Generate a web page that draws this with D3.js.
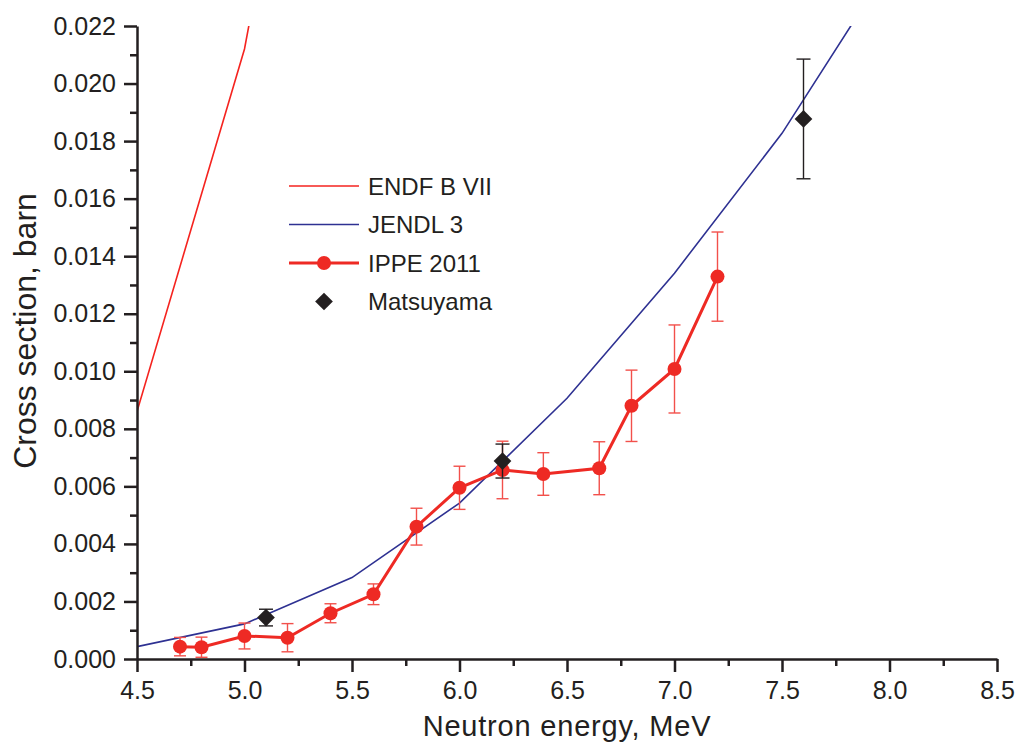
<!DOCTYPE html>
<html>
<head>
<meta charset="utf-8">
<script src="https://cdn.jsdelivr.net/npm/d3@7"></script>
<style>
  body { margin: 0; background: #fff; }
  text { font-family: Arial, "Liberation Sans", sans-serif; fill: #231f20; }
</style>
</head>
<body>
<div id="chart"></div>
<script>
// ENDF B VII evaluation
const endfE = [4.5, 5.0, 5.2];
const endfXS = [0.0086, 0.0212, 0.0292];

// JENDL 3 evaluation
const jendlE = [4.5, 5.0, 5.5, 6.0, 6.5, 7.0, 7.5, 8.0];
const jendlXS = [0.00043, 0.00122, 0.00283, 0.00542, 0.00906, 0.01341, 0.01827, 0.0241];

// IPPE 2011 measurement
const ippeE = [4.7, 4.8, 5.0, 5.2, 5.4, 5.6, 5.8, 6.0, 6.2, 6.39, 6.65, 6.8, 7.0, 7.2];
const ippeXS = [0.00043, 0.00041, 0.0008, 0.00074, 0.00159, 0.00225, 0.0046, 0.00595, 0.00657, 0.00643, 0.00663, 0.0088, 0.01008, 0.01329];
const ippeErr = [0.00032, 0.00035, 0.00045, 0.00049, 0.00033, 0.00036, 0.00064, 0.00075, 0.001, 0.00074, 0.00092, 0.00124, 0.00153, 0.00155];

// Matsuyama
const matsE = [5.1, 6.2, 7.6];
const matsXS = [0.00144, 0.00688, 0.01877];
const matsErr = [0.00029, 0.00059, 0.00208];

const xTicks = [4.5, 5.0, 5.5, 6.0, 6.5, 7.0, 7.5, 8.0, 8.5];
const yTicks = [0, 0.002, 0.004, 0.006, 0.008, 0.010, 0.012, 0.014, 0.016, 0.018, 0.020, 0.022];

const fullWidth = 1016;
const fullHeight = 742;
const margin = { top: 26, right: 19, bottom: 83, left: 137 };
const width = fullWidth - margin.left - margin.right;
const height = fullHeight - margin.top - margin.bottom;

const ink = "#231f20";
const red = "#ee2a24";
const blue = "#2e3192";

const x = d3.scaleLinear().domain([4.5, 8.5]).range([0, width]);
const y = d3.scaleLinear().domain([0, 0.022]).range([height, 0]);

const svg = d3
  .select("#chart")
  .append("svg")
  .attr("width", fullWidth)
  .attr("height", fullHeight)
  .append("g")
  .attr("transform", `translate(${margin.left}, ${margin.top})`);

svg
  .append("clipPath")
  .attr("id", "clip")
  .append("rect")
  .attr("x", 0)
  .attr("y", 0)
  .attr("width", width)
  .attr("height", height);

const line = d3.line().x(d => x(d[0])).y(d => y(d[1]));

const plot = svg.append("g").attr("clip-path", "url(#clip)");

plot
  .append("path")
  .datum(d3.zip(endfE, endfXS))
  .attr("d", line)
  .attr("fill", "none")
  .attr("stroke", "#f5231f")
  .attr("stroke-width", 1.6);

plot
  .append("path")
  .datum(d3.zip(jendlE, jendlXS))
  .attr("d", line)
  .attr("fill", "none")
  .attr("stroke", blue)
  .attr("stroke-width", 1.6);

// error bars
const errBar = (g, data, color, cap, w) => {
  const eb = g.selectAll(null).data(data).enter().append("g");
  eb.append("line")
    .attr("x1", d => x(d[0])).attr("x2", d => x(d[0]))
    .attr("y1", d => y(d[1] - d[2])).attr("y2", d => y(d[1] + d[2]))
    .attr("stroke", color).attr("stroke-width", w);
  [-1, 1].forEach(s => {
    eb.append("line")
      .attr("x1", d => x(d[0]) - cap).attr("x2", d => x(d[0]) + cap)
      .attr("y1", d => y(d[1] + s * d[2])).attr("y2", d => y(d[1] + s * d[2]))
      .attr("stroke", color).attr("stroke-width", w);
  });
};

const ippe = d3.zip(ippeE, ippeXS, ippeErr);
const mats = d3.zip(matsE, matsXS, matsErr);

errBar(plot, ippe, "#f2504b", 6, 1.4);

plot
  .append("path")
  .datum(ippe)
  .attr("d", line)
  .attr("fill", "none")
  .attr("stroke", red)
  .attr("stroke-width", 3);

plot
  .selectAll(".ippe")
  .data(ippe)
  .enter()
  .append("circle")
  .attr("cx", d => x(d[0]))
  .attr("cy", d => y(d[1]))
  .attr("r", 7)
  .attr("fill", red);

errBar(plot, mats, ink, 7, 1.4);

const diamond = d3.symbol().type(d3.symbolDiamond2).size(200);
plot
  .selectAll(".mats")
  .data(mats)
  .enter()
  .append("path")
  .attr("d", diamond)
  .attr("transform", d => `translate(${x(d[0])}, ${y(d[1])})`)
  .attr("fill", ink);

// axes
const xAxis = svg
  .append("g")
  .attr("transform", `translate(0, ${height})`)
  .call(d3.axisBottom(x).tickValues(xTicks).tickFormat(d3.format(".1f")).tickSize(13).tickSizeOuter(0).tickPadding(9));
xAxis
  .append("g")
  .call(d3.axisBottom(x).tickValues(d3.range(4.75, 8.5, 0.5)).tickFormat("").tickSize(7).tickSizeOuter(0))
  .select(".domain").remove();

const yAxis = svg
  .append("g")
  .call(d3.axisLeft(y).tickValues(yTicks).tickFormat(d3.format(".3f")).tickSize(13).tickSizeOuter(0).tickPadding(8));
yAxis
  .append("g")
  .call(d3.axisLeft(y).tickValues(d3.range(0.001, 0.022, 0.002)).tickFormat("").tickSize(7).tickSizeOuter(0))
  .select(".domain").remove();

svg.selectAll(".domain, .tick line").attr("stroke", ink).attr("stroke-width", 2.5);
svg.selectAll(".tick text")
  .attr("fill", ink)
  .style("font-size", "25px")
  .style("font-family", "Arial, 'Liberation Sans', sans-serif");

// axis titles
svg
  .append("text")
  .attr("x", width / 2)
  .attr("y", 710)
  .attr("text-anchor", "middle")
  .style("font-size", "29px")
  .style("letter-spacing", "0.8px")
  .text("Neutron energy, MeV");

svg
  .append("text")
  .attr("transform", `translate(${36 - margin.left}, ${331 - margin.top}) rotate(-90)`)
  .attr("text-anchor", "middle")
  .style("font-size", "32px")
  .text("Cross section, barn");

// legend
const legend = svg.append("g").attr("transform", `translate(${289 - margin.left}, ${186 - margin.top})`);
const legendRows = [
  { name: "ENDF B VII", type: "line", color: "#f5231f", w: 1.6 },
  { name: "JENDL 3", type: "line", color: blue, w: 1.6 },
  { name: "IPPE 2011", type: "dot", color: red, w: 3 },
  { name: "Matsuyama", type: "diamond", color: ink }
];
const row = legend
  .selectAll("g")
  .data(legendRows)
  .enter()
  .append("g")
  .attr("transform", (d, i) => `translate(0, ${i * 38.5})`);
row
  .filter(d => d.type !== "diamond")
  .append("line")
  .attr("x1", 0).attr("x2", 70)
  .attr("stroke", d => d.color)
  .attr("stroke-width", d => d.w);
row
  .filter(d => d.type === "dot")
  .append("circle")
  .attr("cx", 35).attr("r", 7)
  .attr("fill", red);
row
  .filter(d => d.type === "diamond")
  .append("path")
  .attr("d", diamond)
  .attr("transform", "translate(35, 0)")
  .attr("fill", ink);
row
  .append("text")
  .attr("x", 79)
  .attr("y", 8.5)
  .style("font-size", "24px")
  .text(d => d.name);
</script>
</body>
</html>
